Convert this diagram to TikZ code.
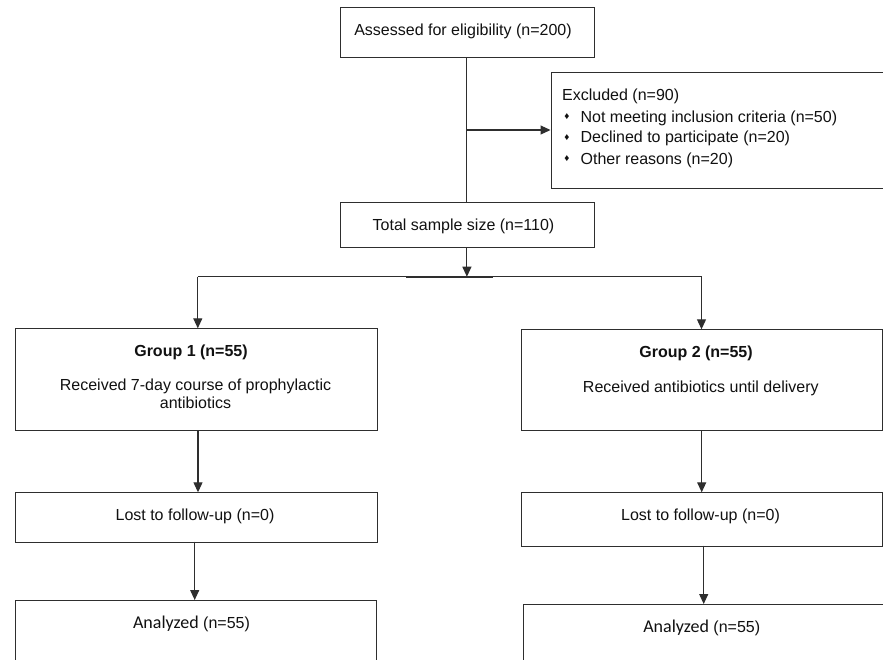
\documentclass[tikz,border=0pt]{standalone}
\usepackage{fontspec}
\setmainfont{Liberation Sans}
\newfontfamily\calibfont{Carlito}
\usetikzlibrary{arrows.meta}
\definecolor{linec}{HTML}{2E2E2E}
\definecolor{txtc}{HTML}{111111}
\begin{document}
\begin{tikzpicture}[x=1pt,y=-1pt,
  box/.style={draw=linec, line width=1.1pt, inner sep=0pt, anchor=north west},
  lbl/.style={font=\fontsize{16}{18.3}\selectfont, text=txtc, inner sep=0pt, anchor=base},
  lblw/.style={lbl, anchor=base west},
  bul/.style={font=\fontsize{10}{11}\selectfont, text=txtc, inner sep=0pt, anchor=center},
  ln/.style={draw=linec, line width=1.1pt},
  arr/.style={draw=linec, line width=1.1pt, -{Triangle[length=10pt,width=9pt]}}]
\useasboundingbox (0,0) rectangle (883,659);
\clip (0,0) rectangle (883,659);
\fill[white] (0,0) rectangle (883,659);

% boxes
\node[box, minimum width=254.3pt, minimum height=50pt] (assess) at (339.5,7.3) {};
\node[box, minimum width=360pt, minimum height=116pt] (excl) at (550.5,72.3) {};
\node[box, minimum width=253.8pt, minimum height=44.4pt] (total) at (340.2,202.3) {};
\node[box, minimum width=362pt, minimum height=101.7pt] (g1) at (14.7,328.3) {};
\node[box, minimum width=362pt, minimum height=49.4pt] (lost1) at (14.7,492.3) {};
\node[box, minimum width=361.3pt, minimum height=80pt] (an1) at (14.7,600) {};
\node[box, minimum width=360.7pt, minimum height=100.7pt] (g2) at (521,329.3) {};
\node[box, minimum width=360.7pt, minimum height=53.4pt] (lost2) at (521,492.3) {};
\node[box, minimum width=380pt, minimum height=80pt] (an2) at (523.3,604) {};

% texts
\node[lbl] (tassess) at (463,35) {Assessed for eligibility (n=200)};
\node[lblw] (texcl) at (562,100.5) {Excluded (n=90)};
\node[bul] (b1) at (567,117) {♦};
\node[bul] (b2) at (567,137.5) {♦};
\node[bul] (b3) at (567,159) {♦};
\node[lblw] (t1) at (580.4,122.2) {Not meeting inclusion criteria (n=50)};
\node[lblw] (t2) at (580.4,142.4) {Declined to participate (n=20)};
\node[lblw] (t3) at (580.4,164) {Other reasons (n=20)};
\node[lbl] (ttotal) at (463.5,230.5) {Total sample size (n=110)};
\node[lbl, font=\fontsize{16}{18.3}\selectfont\bfseries] (tg1) at (191,356) {Group 1 (n=55)};
\node[lbl] (tg1a) at (195.5,390.5) {Received 7-day course of prophylactic};
\node[lbl] (tg1b) at (195.5,408.8) {antibiotics};
\node[lbl] (tlost1) at (195,520.5) {Lost to follow-up (n=0)};
\node[lbl] (tan1) at (191.5,628) {{\calibfont\fontsize{18}{20}\selectfont Analyzed} (n=55)};
\node[lbl, font=\fontsize{16}{18.3}\selectfont\bfseries] (tg2) at (696,357) {Group 2 (n=55)};
\node[lbl] (tg2a) at (700.8,392.8) {Received antibiotics until delivery};
\node[lbl] (tlost2) at (700.5,520.5) {Lost to follow-up (n=0)};
\node[lbl] (tan2) at (701.7,632.4) {{\calibfont\fontsize{18}{20}\selectfont Analyzed} (n=55)};

% connectors
\coordinate (br) at (466.9,130);
\coordinate (split) at (466.9,276.7);
\coordinate (sl) at (197.8,276.7);
\coordinate (sr) at (701.5,276.7);
\draw[ln] (assess.south -| br) -- (total.north -| br);
\draw[arr] (br) -- (br -| excl.west);
\draw[arr] (total.south -| split) -- (split);
\draw[ln] (sl) -- (sr);
\draw[draw=linec, line width=2pt] (405.6,276.7) -- (493.3,276.7);
\draw[arr] (sl) -- (sl |- g1.north);
\draw[arr] (sr) -- (sr |- g2.north);
\draw[arr] (198,430) coordinate (g1b) -- (g1b |- lost1.north);
\draw[arr] (194.7,541.7) coordinate (l1b) -- (l1b |- an1.north);
\draw[arr] (701.7,430) coordinate (g2b) -- (g2b |- lost2.north);
\draw[arr] (703.7,545.7) coordinate (l2b) -- (l2b |- an2.north);
\end{tikzpicture}
\end{document}
